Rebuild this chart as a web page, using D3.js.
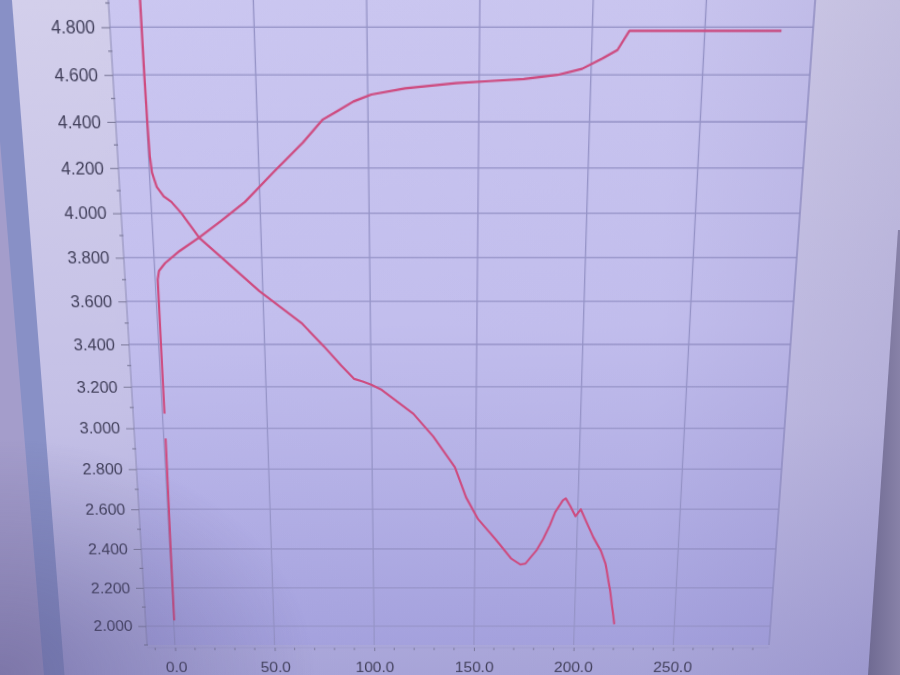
<!DOCTYPE html>
<html><head><meta charset="utf-8">
<script src="https://cdn.jsdelivr.net/npm/d3@7"></script>
<style>
html,body{margin:0;padding:0;width:900px;height:675px;overflow:hidden;background:#8e89b5;}
svg{position:absolute;left:0;top:0;}
#chart{transform-origin:0 0;overflow:visible;filter:blur(0.5px);}
text{font-family:"Liberation Sans",Arial,sans-serif;}
</style></head><body>
<svg id="bg" width="900" height="675"></svg>
<svg id="chart" width="900" height="675"></svg>
<svg id="fg" width="900" height="675" style="pointer-events:none"></svg>
<script>
// ---- data ----
const chargeX = [0.3, 0.5, 0.9, null, 1.0, 1.1, 1.2, 2.0, 5.0, 12.0, 21.9, 31.7, 43.1, 56.5, 70.3, 79.6, 85.7, 93.5, 101.6, 116.8, 139.6, 154.7, 170.0, 185.0, 196.0, 205.0, 211.5, 216.5, 284.0];
const chargeV = [2.03, 2.42, 2.95, null, 3.07, 3.45, 3.70, 3.74, 3.775, 3.83, 3.895, 3.965, 4.05, 4.18, 4.31, 4.41, 4.443, 4.487, 4.517, 4.543, 4.565, 4.574, 4.583, 4.60, 4.626, 4.67, 4.705, 4.785, 4.785];
const dischargeX = [0.0, 0.1, 0.3, 0.6, 1.2, 3.0, 6.0, 9.4, 13.7, 21.5, 31.4, 48.4, 67.6, 78.0, 86.0, 92.0, 96.0, 100.0, 105.0, 120.0, 129.5, 140.0, 145.5, 151.5, 160.0, 168.0, 172.5, 175.0, 180.5, 183.5, 186.6, 189.0, 192.6, 194.0, 196.4, 199.0, 201.5, 203.8, 208.0, 212.0, 214.5, 217.2, 220.0];
const dischargeV = [4.95, 4.60, 4.40, 4.25, 4.18, 4.117, 4.075, 4.05, 4.00, 3.889, 3.80, 3.647, 3.50, 3.39, 3.30, 3.237, 3.225, 3.21, 3.185, 3.07, 2.96, 2.81, 2.66, 2.55, 2.45, 2.35, 2.32, 2.325, 2.395, 2.45, 2.52, 2.585, 2.645, 2.655, 2.615, 2.565, 2.60, 2.55, 2.46, 2.39, 2.325, 2.19, 2.01];
const yTickValues = [2.0, 2.2, 2.4, 2.6, 2.8, 3.0, 3.2, 3.4, 3.6, 3.8, 4.0, 4.2, 4.4, 4.6, 4.8];
const xTickValues = [0, 50, 100, 150, 200, 250];
const xDomain = [-14, 298];
const yDomain = [1.9, 4.9];

// ---- layout (flat chart, later seen at an angle like the photo) ----
const plot = {left:130, right:790, top:3, bottom:645};
const x = d3.scaleLinear().domain(xDomain).range([plot.left, plot.right]);
const y = d3.scaleLinear().domain(yDomain).range([plot.bottom, plot.top]);

const svg = d3.select("#chart");
const defs = svg.append("defs");
const gPanel = defs.append("linearGradient").attr("id","panelG").attr("x1",0).attr("y1",0).attr("x2",0).attr("y2",1);
gPanel.append("stop").attr("offset","0%").attr("stop-color","#d6d2ec");
gPanel.append("stop").attr("offset","55%").attr("stop-color","#c4c0e6");
gPanel.append("stop").attr("offset","100%").attr("stop-color","#9e9bd4");
const gPlot = defs.append("linearGradient").attr("id","plotG").attr("x1",0).attr("y1",0).attr("x2",0).attr("y2",1);
gPlot.append("stop").attr("offset","0%").attr("stop-color","#ccc8f1");
gPlot.append("stop").attr("offset","50%").attr("stop-color","#c3bfee");
gPlot.append("stop").attr("offset","100%").attr("stop-color","#a5a2de");
const gShade = defs.append("linearGradient").attr("id","shadeG").attr("x1",0).attr("y1",0).attr("x2",1).attr("y2",0);
gShade.append("stop").attr("offset","0%").attr("stop-color","#5a5090").attr("stop-opacity",0);
gShade.append("stop").attr("offset","70%").attr("stop-color","#5a5090").attr("stop-opacity",0.02);
gShade.append("stop").attr("offset","100%").attr("stop-color","#5a5090").attr("stop-opacity",0.16);
defs.append("clipPath").attr("id","clip").append("rect")
  .attr("x",plot.left).attr("y",plot.top-40).attr("width",plot.right-plot.left).attr("height",plot.bottom-plot.top+40);

// window frame pieces
svg.append("rect").attr("x",-200).attr("y",-80).attr("width",218).attr("height",860).attr("fill","#a49dcb");
svg.append("rect").attr("x",18).attr("y",-80).attr("width",22).attr("height",860).attr("fill","#8890c6");
svg.append("rect").attr("x",40).attr("y",-80).attr("width",880).attr("height",860).attr("fill","url(#panelG)");
svg.append("rect").attr("x",plot.left).attr("y",plot.top-40).attr("width",plot.right-plot.left).attr("height",plot.bottom-plot.top+40).attr("fill","url(#plotG)");

// grid
const grid = svg.append("g").attr("stroke","#9795c8").attr("stroke-width",1.3);
grid.selectAll("line.h").data(yTickValues).join("line")
  .attr("x1",plot.left).attr("x2",plot.right).attr("y1",d=>y(d)).attr("y2",d=>y(d));
grid.selectAll("line.v").data(xTickValues).join("line")
  .attr("x1",d=>x(d)).attr("x2",d=>x(d)).attr("y1",plot.top-40).attr("y2",plot.bottom);
svg.append("line").attr("x1",plot.right).attr("x2",plot.right).attr("y1",plot.top-40).attr("y2",plot.bottom)
  .attr("stroke","#9290c4").attr("stroke-width",1.4);

// axes
const yAxis = d3.axisLeft(y).tickValues(yTickValues).tickFormat(d3.format(".3f")).tickSize(8).tickPadding(6);
const gy = svg.append("g").attr("transform",`translate(${plot.left},0)`).call(yAxis);
gy.select(".domain").attr("stroke","#8e8cb6").attr("d",`M0,${plot.top-40}V${plot.bottom}`);
gy.selectAll(".tick line").attr("stroke","#7a7898");
gy.selectAll(".tick text").attr("fill","#43415c").attr("font-size",16.5);
const yMinor = d3.range(19, 50).map(v=>v/10).filter(v=>Math.round(v*10)%2===1);
svg.append("g").selectAll("line").data(yMinor).join("line")
  .attr("x1",plot.left-3).attr("x2",plot.left+1).attr("y1",d=>y(d)).attr("y2",d=>y(d))
  .attr("stroke","#7f7d9e").attr("stroke-width",1.2);

const xAxis = d3.axisBottom(x).tickValues(xTickValues).tickFormat(d3.format(".1f")).tickSize(4).tickPadding(12);
const gx = svg.append("g").attr("transform",`translate(0,${plot.bottom+3})`).call(xAxis);
gx.select(".domain").attr("stroke","#a09ed0").attr("d",`M${plot.left},0H${plot.right}`);
gx.selectAll(".tick line").attr("stroke","#7a7898");
gx.selectAll(".tick text").attr("fill","#43415c").attr("font-size",16.5);
const xMinor = d3.range(-10, 300, 10).filter(v=>v%50!==0);
svg.append("g").selectAll("line").data(xMinor).join("line")
  .attr("x1",d=>x(d)).attr("x2",d=>x(d)).attr("y1",plot.bottom+3).attr("y2",plot.bottom+6)
  .attr("stroke","#8482a6").attr("stroke-width",1.2);

// curves
const line = d3.line().defined(d=>d.v!=null).x(d=>x(d.x)).y(d=>y(d.v));
const charge = chargeX.map((v,i)=>({x:v, v:chargeV[i]}));
const discharge = dischargeX.map((v,i)=>({x:v, v:dischargeV[i]}));
const gl = svg.append("g").attr("clip-path","url(#clip)");
gl.append("path").datum(charge).attr("d",line).attr("fill","none").attr("stroke","#cf4c80").attr("stroke-width",2.2).attr("stroke-linejoin","round");
gl.append("path").datum(discharge).attr("d",line).attr("fill","none").attr("stroke","#cf4c80").attr("stroke-width",2.2).attr("stroke-linejoin","round");

// soft shading to the right
svg.append("rect").attr("x",40).attr("y",-80).attr("width",880).attr("height",860).attr("fill","url(#shadeG)");

// ---- view the flat chart at the photo's angle (projective transform) ----
function solve(A,b){
  const n=b.length;
  for(let i=0;i<n;i++){
    let p=i; for(let r=i+1;r<n;r++) if(Math.abs(A[r][i])>Math.abs(A[p][i])) p=r;
    [A[i],A[p]]=[A[p],A[i]]; [b[i],b[p]]=[b[p],b[i]];
    for(let r=i+1;r<n;r++){const f=A[r][i]/A[i][i]; for(let c=i;c<n;c++) A[r][c]-=f*A[i][c]; b[r]-=f*b[i];}
  }
  const s=new Array(n);
  for(let i=n-1;i>=0;i--){let t=b[i]; for(let c=i+1;c<n;c++) t-=A[i][c]*s[c]; s[i]=t/A[i][i];}
  return s;
}
const src=[[plot.left,plot.top],[plot.right,plot.top],[plot.right,plot.bottom],[plot.left,plot.bottom]];
const dst=[[108.5,3],[815,3],[769,645],[147,645]];
const A=[],B=[];
src.forEach(([sx,sy],i)=>{const [u,v]=dst[i];
  A.push([sx,sy,1,0,0,0,-u*sx,-u*sy]); B.push(u);
  A.push([0,0,0,sx,sy,1,-v*sx,-v*sy]); B.push(v);});
const h=solve(A,B);
document.getElementById("chart").style.transform=
  `matrix3d(${h[0]},${h[3]},0,${h[6]},${h[1]},${h[4]},0,${h[7]},0,0,1,0,${h[2]},${h[5]},0,1)`;

// ---- monitor bezel at the right edge ----
const fg=d3.select("#fg");
const gB=fg.append("defs").append("linearGradient").attr("id","bez").attr("x1",0).attr("y1",0).attr("x2",1).attr("y2",0);
gB.append("stop").attr("offset","0%").attr("stop-color","#6f6a92");
gB.append("stop").attr("offset","100%").attr("stop-color","#8a84aa");
fg.append("path").attr("d","M903,230L898,230L868,675L903,675Z").attr("fill","url(#bez)");
// darker bottom-left corner
const gC=fg.select("defs").append("radialGradient").attr("id","corner").attr("cx",0).attr("cy",1).attr("r",0.35);
gC.append("stop").attr("offset","0%").attr("stop-color","#4e4880").attr("stop-opacity",0.45);
gC.append("stop").attr("offset","100%").attr("stop-color","#4e4880").attr("stop-opacity",0);
fg.append("rect").attr("width",900).attr("height",675).attr("fill","url(#corner)");
</script></body></html>
